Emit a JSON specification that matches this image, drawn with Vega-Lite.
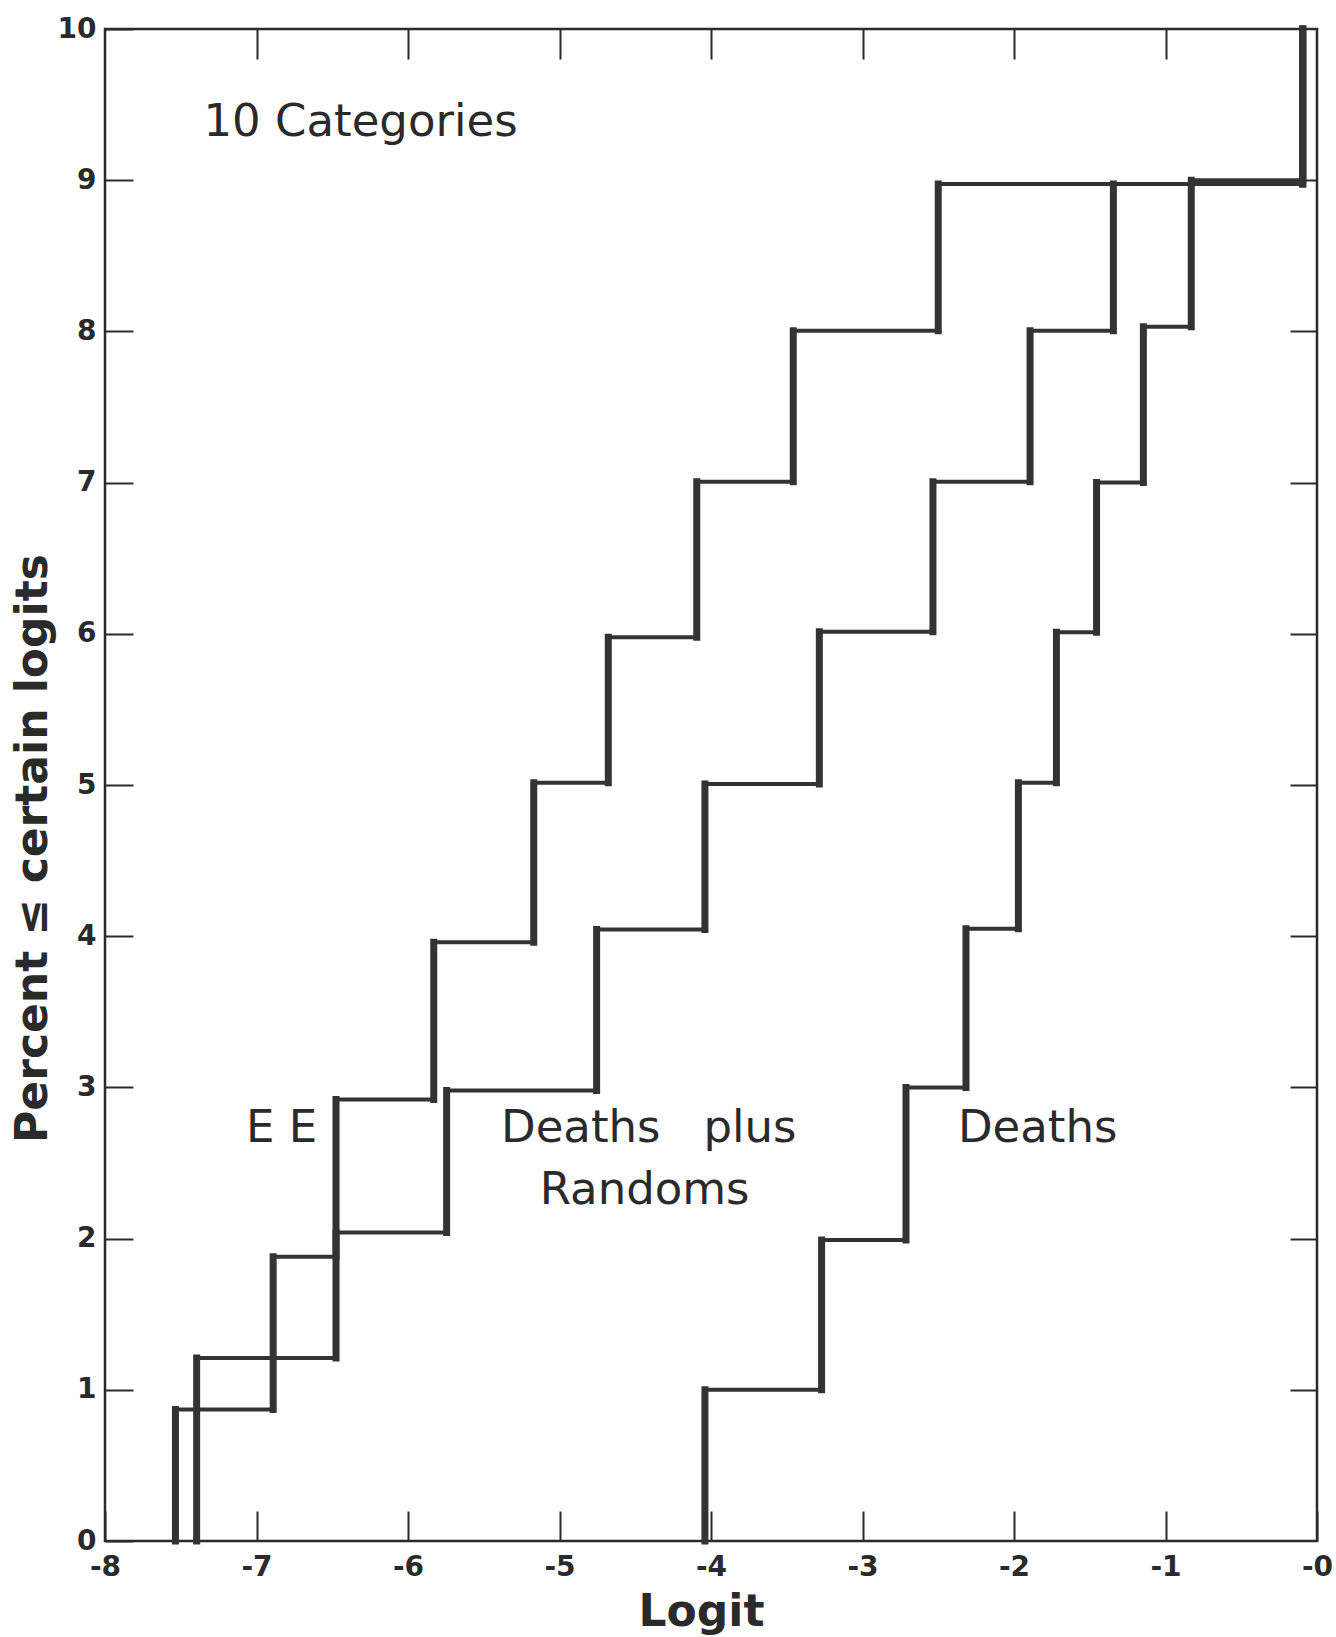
{
  "$schema": "https://vega.github.io/schema/vega-lite/v6.json",
  "width": 1212,
  "height": 1512,
  "autosize": {"type": "none"},
  "padding": {"left": 105, "top": 29, "right": 19, "bottom": 96},
  "background": "white",
  "config": {
    "view": {"stroke": "#2a2a2a", "strokeWidth": 2.5},
    "font": "DejaVu Sans",
    "axis": {"grid": false, "domain": false, "tickColor": "#2a2a2a", "tickWidth": 2, "labelColor": "#2a2a2a", "titleColor": "#2a2a2a", "labelFlush": false, "labelOverlap": false}
  },
  "datasets": {
    "steps": [
      {"s": "EE", "k": 0, "x": -7.535, "y": 0},
      {"s": "EE", "k": 1, "x": -6.89, "y": 0.87},
      {"s": "EE", "k": 2, "x": -6.475, "y": 1.88},
      {"s": "EE", "k": 3, "x": -5.83, "y": 2.92},
      {"s": "EE", "k": 4, "x": -5.17, "y": 3.96},
      {"s": "EE", "k": 5, "x": -4.678, "y": 5.015},
      {"s": "EE", "k": 6, "x": -4.094, "y": 5.977},
      {"s": "EE", "k": 7, "x": -3.457, "y": 7.006},
      {"s": "EE", "k": 8, "x": -2.5, "y": 8.005},
      {"s": "EE", "k": 9, "x": -0.094, "y": 8.975},
      {"s": "EE", "k": 10, "x": -0.094, "y": 10},
      {"s": "Deaths plus Randoms", "k": 0, "x": -7.395, "y": 0},
      {"s": "Deaths plus Randoms", "k": 1, "x": -6.475, "y": 1.21},
      {"s": "Deaths plus Randoms", "k": 2, "x": -5.745, "y": 2.04},
      {"s": "Deaths plus Randoms", "k": 3, "x": -4.755, "y": 2.98},
      {"s": "Deaths plus Randoms", "k": 4, "x": -4.04, "y": 4.045},
      {"s": "Deaths plus Randoms", "k": 5, "x": -3.285, "y": 5.007},
      {"s": "Deaths plus Randoms", "k": 6, "x": -2.535, "y": 6.014},
      {"s": "Deaths plus Randoms", "k": 7, "x": -1.894, "y": 7.006},
      {"s": "Deaths plus Randoms", "k": 8, "x": -1.344, "y": 8.005},
      {"s": "Deaths plus Randoms", "k": 9, "x": -0.094, "y": 8.975},
      {"s": "Deaths plus Randoms", "k": 10, "x": -0.094, "y": 10},
      {"s": "Deaths", "k": 0, "x": -4.04, "y": 0},
      {"s": "Deaths", "k": 1, "x": -3.27, "y": 1.0},
      {"s": "Deaths", "k": 2, "x": -2.713, "y": 1.99},
      {"s": "Deaths", "k": 3, "x": -2.317, "y": 3.0},
      {"s": "Deaths", "k": 4, "x": -1.971, "y": 4.05},
      {"s": "Deaths", "k": 5, "x": -1.72, "y": 5.015},
      {"s": "Deaths", "k": 6, "x": -1.455, "y": 6.01},
      {"s": "Deaths", "k": 7, "x": -1.146, "y": 7.0},
      {"s": "Deaths", "k": 8, "x": -0.83, "y": 8.03},
      {"s": "Deaths", "k": 9, "x": -0.094, "y": 9.0},
      {"s": "Deaths", "k": 10, "x": -0.094, "y": 10}
    ],
    "notes": [
      {"text": "10 Categories", "x": -7.35, "y": 9.385},
      {"text": "E E", "x": -7.07, "y": 2.73},
      {"text": "Deaths\u00a0\u00a0\u00a0plus", "x": -5.386, "y": 2.73},
      {"text": "Randoms", "x": -5.13, "y": 2.32},
      {"text": "Deaths", "x": -2.37, "y": 2.73}
    ]
  },
  "layer": [
    {
      "data": {"name": "steps"},
      "transform": [
        {"window": [{"op": "lead", "field": "y", "as": "ny"}, {"op": "lead", "field": "x", "as": "nx"}], "groupby": ["s"], "sort": [{"field": "k"}]},
        {"filter": "datum.ny != null"}
      ],
      "mark": {"type": "rule", "strokeWidth": 7, "color": "#333333", "strokeCap": "square"},
      "encoding": {
        "x": {"field": "x", "type": "quantitative", "scale": {"domain": [-8, 0], "nice": false, "zero": false},
          "axis": {"orient": "bottom", "values": [-8, -7, -6, -5, -4, -3, -2, -1, 0], "tickSize": -30, "labelExpr": "'-' + abs(datum.value)", "labelFontSize": 28, "labelFontWeight": "bold", "labelPadding": 42,
            "title": "Logit", "titleFontSize": 44, "titleFontWeight": "bold", "titleX": 596, "titleY": 71, "titleBaseline": "middle", "titleAlign": "center"}},
        "y": {"field": "y", "type": "quantitative", "scale": {"domain": [0, 10], "nice": false},
          "axis": {"orient": "left", "values": [0, 1, 2, 3, 4, 5, 6, 7, 8, 9, 10], "tickSize": -28, "labelFontSize": 28, "labelFontWeight": "bold", "labelPadding": 37,
            "title": "Percent ≤ certain logits", "titleFontSize": 44, "titleFontWeight": "bold", "titleX": -72, "titleY": 819, "titleAngle": -90, "titleBaseline": "middle", "titleAlign": "center"}},
        "y2": {"field": "ny"}
      }
    },
    {
      "data": {"name": "steps"},
      "transform": [
        {"window": [{"op": "lead", "field": "y", "as": "ny"}, {"op": "lead", "field": "x", "as": "nx"}], "groupby": ["s"], "sort": [{"field": "k"}]},
        {"filter": "datum.ny != null"}
      ],
      "mark": {"type": "rule", "strokeWidth": 4, "color": "#333333"},
      "encoding": {
        "x": {"field": "x", "type": "quantitative", "axis": {"orient": "top", "values": [-7, -6, -5, -4, -3, -2, -1], "tickSize": -30, "labels": false, "title": null}},
        "x2": {"field": "nx"},
        "y": {"field": "ny", "type": "quantitative", "axis": {"orient": "right", "values": [1, 2, 3, 4, 5, 6, 7, 8, 9], "tickSize": -27, "labels": false, "title": null}}
      }
    },
    {
      "data": {"name": "notes"},
      "mark": {"type": "text", "fontSize": 45, "align": "left", "baseline": "middle", "color": "#2a2a2a"},
      "encoding": {
        "x": {"field": "x", "type": "quantitative", "axis": null},
        "y": {"field": "y", "type": "quantitative", "axis": null},
        "text": {"field": "text"}
      }
    }
  ],
  "resolve": {"axis": {"x": "independent", "y": "independent"}}
}
